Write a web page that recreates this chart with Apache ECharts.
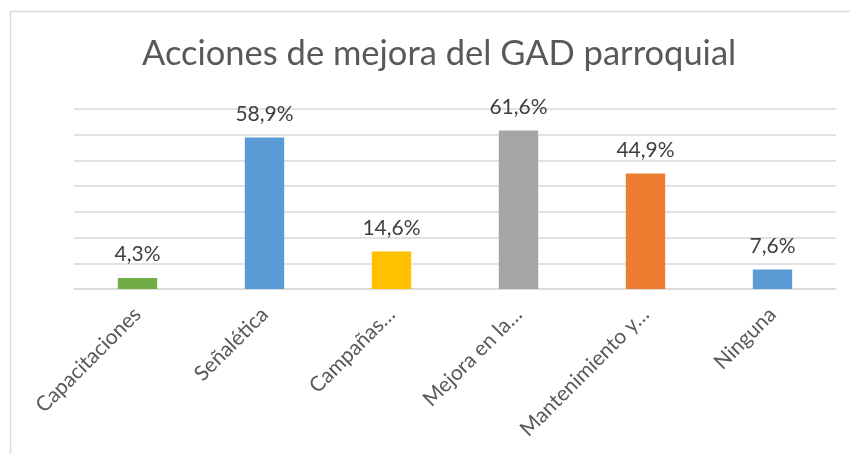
<!DOCTYPE html>
<html>
<head>
<meta charset="utf-8">
<script src="https://cdn.jsdelivr.net/npm/echarts@6/dist/echarts.min.js"></script>
<style>
  html, body { margin: 0; padding: 0; background: #fff; }
  #chart { width: 850px; height: 454px; }
</style>
</head>
<body>
<div id="chart"></div>
<script>
// Data
const categories = ["Capacitaciones", "Señalética", "Campañas…", "Mejora en la…", "Mantenimiento y…", "Ninguna"];
const percentages = [4.3, 58.9, 14.6, 61.6, 44.9, 7.6];
const barColors = ["#70AD47", "#5B9BD5", "#FFC000", "#A5A5A5", "#ED7D31", "#5B9BD5"];

const FONT = "Lato, 'Open Sans', sans-serif";
const chart = echarts.init(document.getElementById("chart"));

const option = {
    animation: false,
    backgroundColor: "#ffffff",
    title: {
        text: "Acciones de mejora del GAD parroquial",
        left: 137,
        top: 31,
        textStyle: {
            fontFamily: FONT,
            fontWeight: "normal",
            fontSize: 34.5,
            color: "#595959"
        }
    },
    // chart area frame (Excel style)
    graphic: [{
        type: "rect",
        shape: { x: 10.5, y: 11.5, width: 860, height: 460 },
        style: { fill: "none", stroke: "#D9D9D9", lineWidth: 1.5 },
        silent: true
    }],
    grid: {
        left: 74,
        right: 14,
        top: 109,
        bottom: 165
    },
    xAxis: {
        type: "category",
        data: categories,
        axisLine: { lineStyle: { color: "#D9D9D9", width: 1.5 } },
        axisTick: { show: false },
        axisLabel: {
            rotate: 45,
            margin: 22,
            interval: 0,
            fontFamily: FONT,
            fontSize: 21,
            color: "#595959"
        }
    },
    yAxis: {
        type: "value",
        min: 0,
        max: 70,
        interval: 10,
        axisLabel: { show: false },
        axisLine: { show: false },
        axisTick: { show: false },
        splitLine: { lineStyle: { color: "#D9D9D9", width: 1.5 } }
    },
    series: [{
        type: "bar",
        barWidth: "31%",
        data: percentages.map((v, i) => ({
            value: v,
            itemStyle: { color: barColors[i] }
        })),
        label: {
            show: true,
            position: "top",
            distance: 13,
            fontFamily: FONT,
            fontSize: 21,
            color: "#404040",
            formatter: p => p.value.toFixed(1).replace(".", ",") + "%"
        }
    }]
};

chart.setOption(option);
window.addEventListener("resize", () => chart.resize());
</script>
</body>
</html>
